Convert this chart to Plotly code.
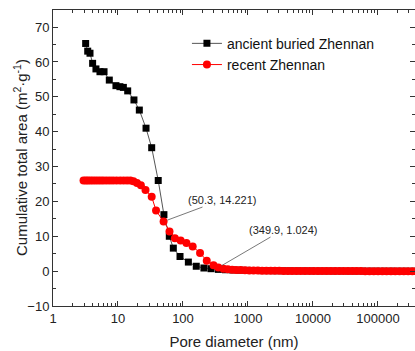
import math
import plotly.graph_objects as go

# ancient buried Zhennan (black squares)
black_d = [3.18, 3.42, 3.71, 4.07, 4.58, 5.28, 6.1, 7.35, 9.3, 10.7, 12.1, 14.1, 17.6, 21.3, 27.0, 33.0,
           41.6, 50.9, 61.6, 71.0, 90.0, 121.0, 160.0, 210.0, 270.0, 350.0, 450.0, 580.0, 750.0, 970.0,
           1250, 1620, 2100, 2700, 3500, 4500, 5800, 7500, 9700, 12500, 16200, 21000, 27000, 35000,
           45000, 58000, 75000, 97000, 125000, 162000, 210000, 270000, 350000]
black_v = [65.3, 63.1, 62.5, 59.6, 58.0, 57.2, 57.2, 54.8, 53.2, 52.9, 52.7, 51.7, 49.1, 46.2, 41.0, 35.4,
           26.0, 16.2, 10.0, 6.6, 4.2, 2.6, 1.4, 0.9, 0.7, 0.5, 0.4, 0.33, 0.27, 0.22,
           0.18, 0.15, 0.13, 0.11, 0.09, 0.08, 0.07, 0.06, 0.05, 0.04, 0.04, 0.03, 0.03, 0.02,
           0.02, 0.02, 0.01, 0.01, 0.01, 0.01, 0.0, 0.0, 0.0]

# recent Zhennan (red circles)
red_d = [2.95, 3.2, 3.45, 3.75, 4.1, 4.5, 4.95, 5.45, 6.0, 6.7, 7.5, 8.4, 9.5, 10.8, 12.2, 13.8,
         15.5, 17.3, 19.6, 22.5, 26.5, 33.0, 38.5, 50.3, 62.0, 75.0, 92.0, 113.0, 141.0, 183.0,
         232.0, 295.0, 349.9, 420, 490, 570, 660, 770, 900, 1050, 1220, 1420, 1650, 1920, 2240,
         2600, 3030, 3530, 4110, 4780, 5570, 6480, 7550, 8790, 10240, 11920, 13880, 16160, 18820,
         21910, 25510, 29700, 34590, 40280, 46900, 54610, 63590, 74040, 86210, 100380, 116880,
         136090, 158460, 184510, 214840, 250150, 291270, 339150, 394900]
red_v = [26.0, 26.0, 26.0, 26.0, 26.0, 26.0, 26.0, 26.0, 26.0, 26.0, 26.0, 26.0, 26.0, 26.0, 26.0, 26.0,
         26.0, 25.8, 25.3, 24.6, 23.3, 21.3, 17.4, 14.221, 11.4, 9.4, 8.8, 8.1, 7.1, 5.2,
         3.0, 1.7, 1.024, 0.72, 0.55, 0.43, 0.35, 0.29, 0.24, 0.2, 0.17, 0.15, 0.13, 0.11, 0.1,
         0.09, 0.08, 0.07, 0.06, 0.05, 0.05, 0.04, 0.04, 0.03, 0.03, 0.03, 0.02, 0.02, 0.02,
         0.02, 0.01, 0.01, 0.01, 0.01, 0.01, 0.01, 0.0, 0.0, 0.0, 0.0, 0.0,
         0.0, 0.0, 0.0, 0.0, 0.0, 0.0, 0.0, 0.0]

x_tickvals = [1, 10, 100, 1000, 10000, 100000]
x_ticktext = ["1", "10", "100", "1000", "10000", "100000"]
y_tickvals = [-10, 0, 10, 20, 30, 40, 50, 60, 70]

FONT = "Liberation Sans, Arial, sans-serif"

fig = go.Figure()
fig.add_trace(go.Scatter(
    x=black_d, y=black_v, mode="lines+markers", name="ancient buried Zhennan",
    line=dict(color="#555555", width=1),
    marker=dict(symbol="square", size=7, color="black"),
))
fig.add_trace(go.Scatter(
    x=red_d, y=red_v, mode="lines+markers", name="recent Zhennan",
    line=dict(color="red", width=1),
    marker=dict(symbol="circle", size=8, color="red"),
))

for (px, py, ax, ay, txt) in [(50.3, 14.221, 59, -22, "(50.3, 14.221)"),
                              (349.9, 1.024, 65, -38, "(349.9, 1.024)")]:
    fig.add_annotation(x=math.log10(px), y=py, xref="x", yref="y", text=txt,
                       showarrow=True, arrowhead=0, arrowwidth=0.8, arrowcolor="#555555",
                       ax=ax, ay=ay, standoff=4,
                       font=dict(family=FONT, size=11, color="#222222"))

# y-axis title placed as a rotated annotation
fig.add_annotation(x=0, y=0.5, xref="paper", yref="paper", xshift=-33,
                   text="Cumulative total area (m<sup>2</sup>·g<sup>-1</sup>)",
                   textangle=-90, showarrow=False, xanchor="center", yanchor="middle",
                   font=dict(family=FONT, size=15, color="#222222"))

fig.update_layout(
    width=415, height=351,
    margin=dict(l=53, r=0, t=10, b=45),
    paper_bgcolor="white", plot_bgcolor="white",
    font=dict(family=FONT, size=13, color="#222222"),
    showlegend=True,
    legend=dict(x=0.37, y=0.94, xanchor="left", yanchor="top",
                bgcolor="rgba(0,0,0,0)", font=dict(family=FONT, size=14, color="#111111"),
                tracegroupgap=0, itemwidth=30),
)
fig.update_xaxes(
    type="log", range=[0, 5.57],
    tickvals=x_tickvals, ticktext=x_ticktext,
    ticks="inside", ticklen=5, tickcolor="#333333",
    showline=True, linecolor="#333333", linewidth=1, mirror="ticks",
    showgrid=False, zeroline=False,
    minor=dict(ticks="inside", ticklen=3, dtick="D1", tickcolor="#333333", showgrid=False),
    title=dict(text="Pore diameter (nm)", font=dict(size=15, family=FONT), standoff=11),
    tickfont=dict(size=13),
)
fig.update_yaxes(
    range=[-10, 74.9], tickvals=y_tickvals,
    ticks="inside", ticklen=5, tickcolor="#333333",
    showline=True, linecolor="#333333", linewidth=1, mirror="ticks",
    showgrid=False, zeroline=False,
    minor=dict(ticks="inside", ticklen=3, dtick=5, tickcolor="#333333", showgrid=False),
    tickfont=dict(size=13),
)

fig.write_html("out.html", config={"displayModeBar": False},
               post_script="document.body.style.margin='0';document.body.style.overflow='hidden';")
